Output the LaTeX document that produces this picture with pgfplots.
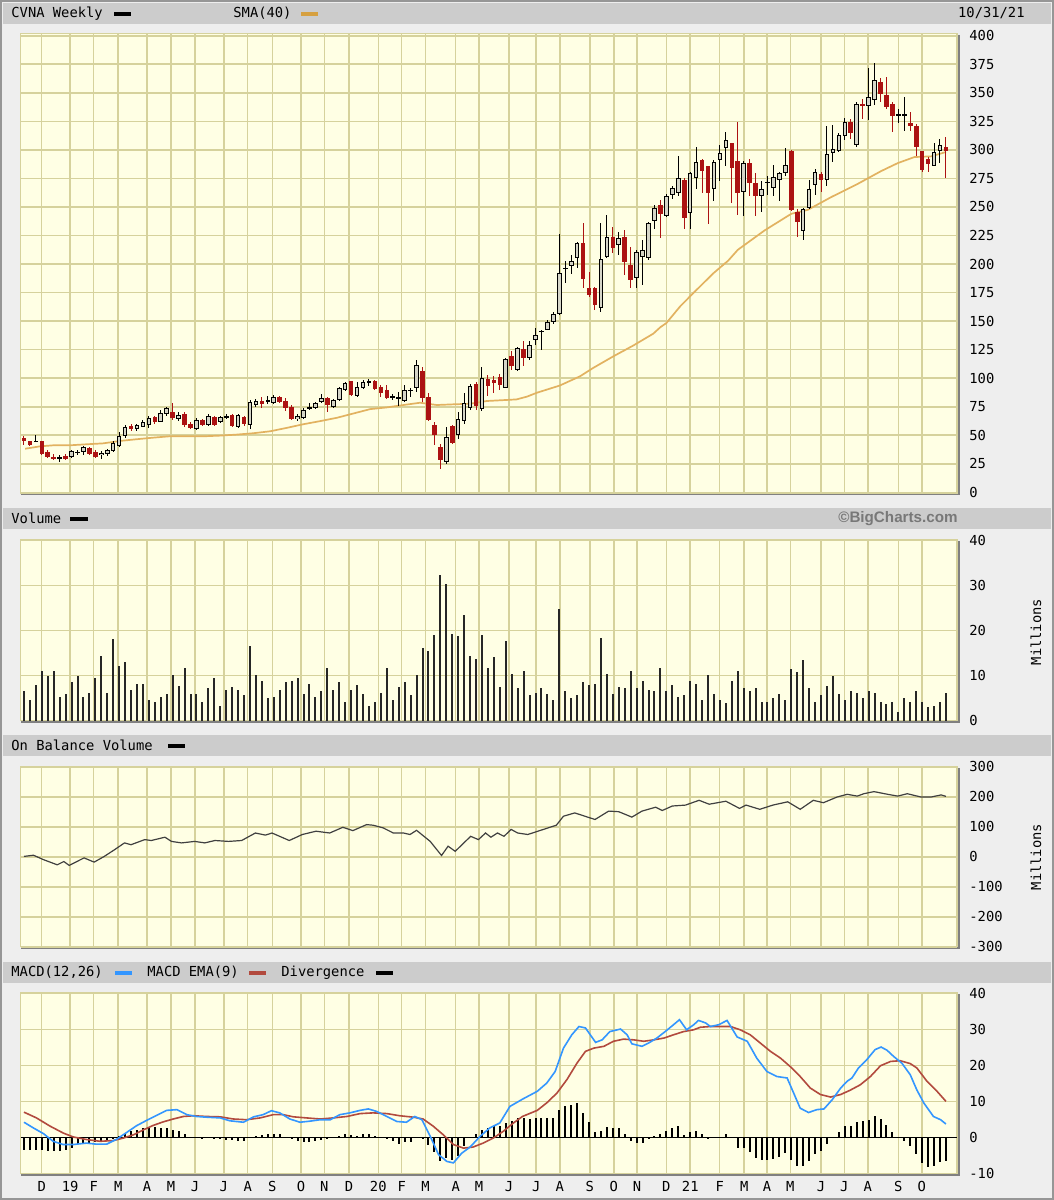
\documentclass[border=0pt]{standalone}
\usepackage{pgfplots}
\pgfplotsset{compat=1.18}
\usepackage{pgfplotstable}
\usepackage{fontspec}
\setmainfont{DejaVu Sans Mono}
\newfontfamily\chartfont{DejaVu Sans Mono}
\newfontfamily\bcfont{Liberation Sans}
\newcommand\cf{\chartfont\fontsize{6.9}{7}\selectfont}

\definecolor{chartbg}{RGB}{255,255,228}
\definecolor{gridc}{RGB}{214,210,156}
\definecolor{headc}{RGB}{204,204,204}
\definecolor{pagec}{RGB}{238,238,238}
\definecolor{framec}{RGB}{150,150,150}
\definecolor{shadowc}{RGB}{128,128,128}
\definecolor{candred}{RGB}{172,18,18}
\definecolor{hollow}{RGB}{214,214,200}
\definecolor{smac}{RGB}{226,178,96}
\definecolor{smasw}{RGB}{214,160,64}
\definecolor{macdc}{RGB}{51,150,255}
\definecolor{emac}{RGB}{178,74,62}
\definecolor{bcgray}{RGB}{120,120,120}

% weekly candles, x = week index (0 = mid Nov 2018, 155 = 10/29/21)
\pgfplotstableread{
i o h l c
2 44.5 50.0 44.0 45.0
6 30.0 33.0 27.0 30.3
8 31.0 37.4 29.7 35.9
9 35.0 37.4 33.0 35.5
10 35.3 40.9 33.0 39.7
13 32.4 36.0 28.8 34.7
14 33.5 38.0 32.0 37.0
15 36.5 44.7 35.3 43.5
16 40.6 53.0 39.7 49.4
17 49.4 58.8 47.6 57.4
19 55.3 60.3 53.5 58.8
20 57.6 63.2 57.0 61.2
21 58.8 66.5 56.8 65.3
23 61.8 72.0 61.2 69.1
24 68.2 75.0 67.0 73.5
26 64.1 70.0 62.4 67.6
29 55.9 64.7 54.4 63.2
31 58.8 69.0 58.0 67.0
33 61.8 66.8 60.9 65.9
34 65.9 68.2 64.0 66.2
36 57.4 69.0 56.5 67.6
38 58.8 80.9 55.9 79.4
39 76.5 81.8 75.0 80.0
41 80.3 84.7 77.0 80.6
42 77.9 85.3 77.0 83.8
46 64.1 69.0 62.4 66.8
47 65.3 73.5 64.1 72.1
48 73.8 77.9 72.1 74.1
49 74.1 79.4 72.9 78.5
50 79.4 85.9 77.9 82.9
52 75.0 81.8 73.5 80.9
53 80.9 92.1 80.0 91.2
54 89.7 97.0 88.8 95.6
56 84.7 97.0 83.8 92.6
57 91.8 98.5 90.6 96.5
58 97.0 99.4 93.5 97.1
62 83.5 85.9 80.9 83.8
63 82.6 87.6 75.9 82.9
64 80.0 94.1 78.8 89.7
65 89.4 91.8 83.8 89.7
66 91.2 116.2 87.6 111.8
71 26.5 57.4 25.0 48.5
73 50.0 70.6 47.1 63.9
74 62.5 87.2 60.0 78.5
75 74.0 94.5 72.0 93.0
77 72.7 109.6 71.2 100.0
81 91.6 117.7 91.0 116.9
83 107.0 127.3 106.0 126.5
85 117.7 132.3 115.7 129.4
86 133.7 143.9 129.4 138.0
87 140.8 142.4 124.4 141.2
88 142.4 151.0 141.9 148.8
89 148.8 158.4 147.7 156.4
90 156.4 225.9 155.5 192.4
91 195.9 202.9 183.1 196.5
92 198.3 207.8 191.0 202.9
93 205.0 219.5 196.2 218.6
97 161.3 235.5 157.6 204.0
98 206.4 242.7 205.0 223.3
100 216.6 228.2 207.8 222.4
103 187.5 212.2 178.8 210.8
104 206.4 221.0 181.7 212.2
105 205.0 237.0 203.5 235.5
106 237.8 251.5 231.0 249.4
108 241.7 261.0 241.0 259.6
109 260.2 268.0 256.7 266.8
110 262.0 294.2 259.6 275.5
112 244.6 281.0 230.8 279.8
113 275.5 302.9 265.4 289.0
116 266.0 291.3 255.3 289.0
117 290.8 304.3 272.6 297.0
118 301.4 315.9 286.2 308.7
121 263.1 289.9 241.7 288.5
124 259.6 272.6 245.2 266.0
125 271.5 276.9 260.2 271.9
126 266.8 287.0 259.6 276.0
127 274.0 281.0 255.3 279.8
128 279.8 301.4 276.9 287.0
131 228.5 248.7 220.7 248.1
132 248.7 274.0 248.1 266.0
133 269.1 283.3 260.2 280.7
135 274.0 320.8 268.3 296.5
136 297.1 321.6 289.0 300.6
137 298.6 315.0 297.7 313.0
138 312.1 328.3 308.7 324.5
140 304.3 341.8 302.9 339.8
142 338.1 372.1 326.0 346.1
143 343.3 376.4 338.9 361.1
147 330.7 336.0 323.7 331.1
148 330.7 346.1 316.7 331.1
153 286.2 306.3 285.6 297.7
154 298.6 309.2 288.5 304.3
}\upcandles

\pgfplotstableread{
i o h l c
0 47.6 49.4 41.8 45.3
1 45.3 45.3 40.6 41.8
3 44.7 45.3 33.0 33.5
4 35.3 37.4 30.0 31.0
5 31.0 34.0 28.0 29.0
7 31.8 33.5 28.0 29.4
11 38.8 39.7 33.0 33.2
12 35.3 36.8 30.0 30.9
18 57.9 59.7 53.5 55.3
22 65.9 66.5 60.3 61.8
25 70.6 77.9 63.2 64.7
27 68.2 70.0 57.4 58.8
28 60.3 61.8 55.3 56.5
30 63.2 64.0 58.2 58.8
32 66.2 66.8 58.2 58.8
35 67.6 68.2 57.4 58.2
37 66.2 66.8 58.2 60.3
40 80.0 83.8 74.1 77.0
43 83.8 84.7 77.9 79.4
44 80.0 82.4 71.2 74.1
45 75.0 76.5 63.2 64.1
51 82.4 83.8 70.6 76.5
55 97.1 97.6 84.7 85.3
59 97.1 98.5 89.7 90.6
60 92.6 94.1 83.8 86.8
61 89.7 94.1 81.8 82.9
67 105.9 109.4 79.4 82.4
68 83.8 86.8 62.4 63.2
69 58.8 61.8 41.2 50.0
70 39.7 42.6 20.6 27.9
72 58.2 59.4 42.6 43.5
76 95.0 96.5 72.0 75.6
78 99.7 103.0 84.3 93.0
79 98.8 101.7 86.6 95.9
80 101.0 104.0 90.0 93.6
82 119.2 124.0 107.5 111.0
84 125.9 132.3 110.5 117.7
94 218.6 235.5 178.8 186.6
95 178.8 193.3 171.5 173.0
96 178.8 180.2 159.9 164.2
99 223.8 232.6 209.3 213.7
101 223.8 229.7 190.4 202.0
102 199.1 214.5 178.8 186.0
107 251.5 256.0 222.4 243.6
111 274.0 275.5 230.8 240.0
114 290.8 292.0 262.5 281.3
115 285.6 285.6 235.0 262.5
119 306.3 306.3 253.3 284.1
120 289.9 324.5 242.9 262.5
122 288.5 292.0 259.6 271.2
123 271.2 280.0 241.7 259.6
129 298.6 300.0 246.6 247.5
130 245.2 248.1 223.6 237.1
134 279.2 281.0 263.1 274.0
139 324.5 327.4 309.2 314.4
141 339.8 344.7 327.4 338.1
144 359.7 362.9 341.8 349.0
145 348.2 363.5 336.0 337.5
146 340.4 341.8 315.9 329.4
149 323.1 333.2 316.7 320.8
150 320.8 322.5 294.2 302.9
151 299.4 299.4 280.4 282.7
152 291.9 293.7 280.4 287.9
155 302.9 311.5 275.5 298.6
}\downcandles

\pgfplotstableread{
i v
0.2 38.2
2.7 40.3
4.9 41.2
7.7 41.2
10.5 42.1
13.3 42.9
16.1 45.0
18.9 46.5
21.7 47.9
24.5 49.1
27.4 49.1
30.2 49.1
33.0 49.7
35.8 50.6
38.6 51.8
41.4 53.5
44.2 56.5
47.0 59.7
49.8 62.4
52.6 65.3
55.4 69.1
58.2 72.9
61.0 74.4
63.8 76.5
66.6 78.5
69.4 76.5
72.2 77.1
75.0 77.6
77.8 80.0
82.8 81.4
84.6 83.9
86.2 87.2
90.1 93.6
93.5 101.7
95.7 109.0
99.1 119.2
102.4 128.5
105.8 139.0
107.0 144.7
108.0 148.3
110.3 162.8
112.5 174.4
115.9 191.9
118.4 203.0
120.0 212.4
124.5 229.4
129.0 244.0
131.8 247.5
135.7 258.6
140.2 270.3
144.1 281.4
146.9 288.4
149.7 293.7
152.5 294.3
155.0 298.1
}\sma

\pgfplotstableread{
i v
0 6.5
1 4.6
2 7.8
3 11.1
4 9.8
5 11.1
6 5.2
7 5.9
8 8.6
9 9.8
10 5.2
11 6.2
12 9.5
13 14.4
14 6.2
15 18.0
16 12.1
17 13.0
18 6.8
19 8.2
20 8.2
21 4.6
22 4.2
23 5.2
24 5.9
25 10.1
26 7.6
27 11.7
28 5.9
29 5.9
30 4.2
31 7.2
32 9.4
33 3.3
34 6.8
35 7.4
36 6.8
37 5.6
38 16.6
39 10.1
40 8.8
41 4.9
42 5.2
43 6.8
44 8.6
45 8.8
46 9.4
47 5.9
48 8.2
49 5.2
50 6.5
51 11.7
52 6.8
53 8.6
54 4.2
55 6.8
56 7.8
57 5.9
58 3.3
59 4.2
60 6.2
61 11.7
62 4.6
63 7.4
64 8.6
65 5.6
66 10.1
67 16.0
68 15.4
69 19.0
70 32.3
71 30.3
72 19.3
73 18.7
74 23.4
75 14.4
76 13.7
77 19.0
78 11.7
79 14.1
80 7.4
81 17.6
82 10.4
83 7.2
84 11.1
85 5.6
86 6.2
87 7.2
88 5.9
89 4.6
90 24.8
91 6.5
92 4.9
93 5.6
94 8.6
95 7.8
96 8.2
97 18.3
98 10.4
99 5.9
100 7.4
101 7.2
102 11.1
103 7.2
104 8.8
105 6.8
106 6.5
107 11.7
108 6.5
109 7.8
110 5.2
111 5.6
112 8.8
113 8.2
114 4.6
115 10.1
116 5.9
117 4.6
118 3.9
119 8.8
120 11.1
121 7.2
122 6.5
123 7.2
124 4.2
125 4.2
126 4.9
127 5.9
128 4.6
129 11.4
130 10.8
131 13.4
132 7.2
133 4.2
134 5.6
135 7.6
136 9.8
137 5.9
138 4.6
139 6.5
140 6.2
141 4.9
142 6.5
143 6.2
144 4.2
145 3.6
146 4.2
147 2.0
148 4.9
149 4.2
150 6.5
151 4.2
152 3.0
153 3.3
154 4.2
155 6.2
}\volume

\pgfplotstableread{
i v
0 1
1.6 5
3.3 -10
5.6 -27
6.7 -16
7.6 -29
10.1 -4
11.8 -18
13.5 1
15.2 23
16.9 46
18.0 40
20.3 57
21.4 54
23.7 65
24.8 51
26.5 46
28.7 51
30.4 46
32.1 54
34.4 51
36.6 54
38.9 79
40.6 72
41.7 79
44.6 54
46.8 74
49.1 85
51.4 79
53.6 98
55.3 87
57.6 107
58.7 105
60.4 96
62.1 79
63.8 79
64.9 74
66.0 88
68.3 51
70.2 4
71.3 35
72.5 18
75.1 68
76.4 57
77.6 79
78.5 65
79.6 79
80.7 68
81.9 91
83.0 79
84.7 74
86.4 85
88.1 96
89.5 105
90.7 135
92.6 146
94.3 135
96.0 124
98.3 152
100.0 150
102.2 132
103.9 152
106.2 165
107.3 154
109.0 169
111.2 172
113.5 188
115.2 175
118.0 185
120.3 161
121.4 172
123.7 158
125.9 172
128.4 183
130.5 158
132.7 188
134.4 180
136.7 199
138.4 208
140.1 202
141.2 210
142.9 217
145.2 208
146.9 202
148.5 210
150.8 199
152.5 199
154.2 206
155.0 201
}\obv

\pgfplotstableread{
i v
0 4.2
1.6 2.6
3.3 1.0
4.9 -1.1
6.6 -2.0
8.3 -2.0
10.5 -1.6
12.2 -1.9
13.9 -1.9
15.6 -0.5
17.3 1.4
18.9 3.2
20.6 4.7
22.3 6.1
24.0 7.5
25.7 7.7
27.4 6.3
29.0 5.8
30.7 5.6
33.0 5.4
34.6 4.6
36.9 4.2
38.6 5.7
40.2 6.3
41.6 7.4
43.0 6.8
44.7 5.1
46.4 4.2
48.1 4.5
49.8 4.9
51.5 4.9
53.1 6.3
54.8 6.8
56.5 7.5
57.9 7.9
59.3 7.2
61.0 5.8
62.7 4.4
64.3 4.2
65.7 5.8
66.9 4.9
68.3 0.3
69.7 -4.8
71.1 -6.7
72.2 -7.1
73.6 -4.4
75.0 -2.7
76.7 0.3
78.3 2.6
80.0 4.0
81.7 8.6
83.8 10.6
86.3 12.8
87.9 15.1
89.3 18.3
90.7 24.8
92.1 28.5
93.3 30.8
94.4 30.4
96.1 26.4
97.2 27.1
98.5 29.4
100.3 30.1
101.4 28.5
102.2 26.0
103.9 25.3
105.0 26.2
106.4 27.6
107.8 29.4
109.2 31.3
110.2 32.7
111.4 29.9
112.6 31.3
113.4 32.5
114.6 31.8
115.4 30.8
116.8 31.3
118.2 32.5
119.9 27.9
121.6 26.7
123.2 22.0
124.9 18.3
126.6 16.9
128.3 16.5
129.4 12.3
130.5 8.1
131.9 6.9
133.3 7.7
134.5 7.9
135.9 10.5
137.3 13.7
138.4 15.6
139.2 16.5
140.3 19.3
141.7 21.6
143.1 24.4
144.1 25.1
145.1 24.2
146.2 22.5
147.6 20.6
149.0 17.4
150.1 13.2
151.3 9.5
152.9 5.8
154.1 4.9
155.0 3.7
}\macd

\pgfplotstableread{
i v
0 7.0
2.1 5.4
4.4 3.1
6.6 1.2
8.3 0.1
10.5 -0.6
12.8 -1.1
15.0 -0.9
16.7 -0.2
18.4 0.7
20.1 2.1
21.7 3.3
23.4 4.3
25.1 5.1
26.8 5.8
28.5 6.0
30.7 5.8
33.0 5.7
35.2 5.1
37.4 4.9
39.7 5.4
41.9 6.3
43.6 6.3
45.3 5.7
47.5 5.4
49.8 5.1
52.0 5.4
54.3 5.8
56.5 6.6
58.7 6.8
61.0 6.6
63.2 6.0
65.5 5.6
67.1 5.1
68.8 3.1
70.5 0.7
72.2 -2.0
73.9 -3.0
75.5 -2.7
77.2 -1.6
78.9 -0.2
80.6 1.7
82.3 4.0
83.8 5.8
86.3 7.5
87.9 9.6
89.6 12.3
91.3 16.1
93.0 20.7
94.4 23.9
95.8 24.8
97.5 25.3
99.1 26.7
100.8 27.3
102.5 27.1
104.2 26.7
105.9 27.1
107.6 27.6
109.2 28.5
110.9 29.4
112.6 29.9
113.7 30.6
115.4 30.8
117.1 30.8
118.8 30.8
120.4 29.9
122.1 28.5
123.8 26.2
125.5 23.9
127.2 22.0
128.8 19.7
130.5 16.9
132.2 13.7
133.9 11.9
135.6 11.2
137.3 11.9
138.9 13.1
140.6 14.6
142.3 16.9
144.0 19.9
145.7 21.1
147.3 21.3
149.0 20.5
150.1 19.3
151.8 15.6
153.5 12.8
155.0 10.0
}\ema

\pgfplotstableread{
i v
0 -3.4
1 -3.6
2 -3.4
3 -3.6
4 -3.9
5 -3.9
6 -3.9
7 -3.4
8 -3.0
9 -1.9
10 -1.6
11 -1.6
12 -1.4
13 -1.2
14 -0.8
15 -0.5
16 0.5
17 1.2
18 1.9
19 2.1
20 2.6
21 2.6
22 2.9
23 2.6
24 2.6
25 2.1
26 1.7
27 1.0
28 0.2
29 0
30 -0.5
31 0
32 -0.4
33 -0.5
34 -0.6
35 -0.8
36 -0.9
37 -0.9
38 0
39 0.3
40 0.6
41 0.8
42 1.0
43 0.9
44 0.2
45 -0.5
46 -1.1
47 -1.4
48 -1.3
49 -1.1
50 -0.6
51 -0.5
52 0
53 0.3
54 1.0
55 0.6
56 0.5
57 0.8
58 1.0
59 0.5
60 0
61 -0.5
62 -1.1
63 -1.8
64 -1.4
65 -1.4
66 0
67 -0.5
68 -2.0
69 -4.2
70 -6.7
71 -5.8
72 -6.2
73 -5.1
74 -2.5
75 0
76 0.8
77 2.1
78 2.6
79 3.1
80 3.2
81 4.0
82 4.5
83 5.4
84 5.4
85 5.1
86 5.4
87 5.4
88 5.4
89 5.4
90 7.5
91 8.6
92 9.1
93 9.5
94 6.9
95 4.2
96 1.4
97 1.7
98 2.9
99 2.6
100 2.6
101 1.0
102 -1.1
103 -1.6
104 -1.6
105 -0.5
106 0.5
107 1.0
108 1.7
109 2.6
110 3.1
111 0.7
112 1.4
113 1.7
114 1.0
115 -0.5
116 0
117 0
118 1.0
119 0
120 -3.0
121 -3.0
122 -4.2
123 -5.8
124 -6.2
125 -6.2
126 -5.9
127 -5.5
128 -4.4
129 -6.2
130 -8.1
131 -7.9
132 -6.7
133 -4.5
134 -3.9
135 -1.8
136 0
137 1.4
138 3.1
139 3.1
140 4.2
141 4.5
142 4.9
143 5.8
144 5.1
145 3.4
146 1.4
147 0
148 -1.1
149 -2.5
150 -4.5
151 -7.1
152 -8.2
153 -7.9
154 -6.9
155 -6.7
}\diverg

\pgfplotsset{
  panel/.style={
    scale only axis, anchor=north west, width=468.15pt,
    xmin=-0.55, xmax=156.86,
    axis background/.style={fill=chartbg},
    axis line style={draw=gridc, line width=0.7pt},
    xmajorgrids, ymajorgrids,
    major grid style={draw=gridc, line width=0.8pt},
    xtick={2.98,7.78,11.72,15.85,20.68,24.71,28.75,33.58,37.61,41.75,46.58,50.50,54.64,59.57,63.50,67.53,72.58,76.49,81.54,86.13,90.07,95.11,99.15,103.06,107.99,112.02,116.96,121.10,124.92,128.84,134.00,137.92,141.85,147.00,150.94},
    xticklabels={},
    major tick length=0pt,
    yticklabel pos=right,
    yticklabel style={font=\cf, anchor=west, inner sep=0pt, xshift=6pt},
    /pgf/number format/assume math mode=true,
    /pgf/number format/1000 sep={},
    scaled y ticks=false,
  },
  errbar/.style 2 args={only marks, mark=*, mark size=0pt,
    mark options={draw=none, fill=none}, forget plot,
    error bars/.cd, y dir=both, y explicit, error mark=none,
    error bar style={draw=#1, line width=#2}},
}

\begin{document}
\begin{tikzpicture}
\begin{scope}[x=0.5pt,y=-0.5pt]
  \fill[pagec] (0,0) rectangle (1054,1200);
  \draw[framec, line width=1pt] (1,1) rectangle (1053,1199);
  % header bars
  \fill[headc] (3,3) rectangle (1051,24);
  \fill[headc] (3,508) rectangle (1051,529);
  \fill[headc] (3,735) rectangle (1051,756);
  \fill[headc] (3,962) rectangle (1051,983);
  % plot shadows
  \fill[shadowc] (21,492.8) rectangle (959.5,495.3);
  \fill[shadowc] (957,35) rectangle (959.5,495.3);
  \fill[shadowc] (21,720.5) rectangle (959.5,723);
  \fill[shadowc] (957,541) rectangle (959.5,723);
  \fill[shadowc] (21,946.7) rectangle (959.5,949.2);
  \fill[shadowc] (957,768) rectangle (959.5,949.2);
  \fill[shadowc] (21,1173.3) rectangle (959.5,1175.8);
  \fill[shadowc] (957,994) rectangle (959.5,1175.8);
  % header texts
  \node[anchor=west, font=\cf, inner sep=0pt] at (11,13.5) {CVNA Weekly};
  \fill[black] (114,11.5) rectangle (131,15.5);
  \node[anchor=west, font=\cf, inner sep=0pt] at (233,13.5) {SMA(40)};
  \fill[smasw] (301,11.5) rectangle (318,15.5);
  \node[anchor=east, font=\cf, inner sep=0pt] at (1025,13.5) {10/31/21};
  \node[anchor=west, font=\cf, inner sep=0pt] at (11,518.5) {Volume};
  \fill[black] (70,516.5) rectangle (88,520.5);
  \node[anchor=east, font=\bcfont\bfseries\fontsize{7.6}{8}\selectfont, text=bcgray, inner sep=0pt] at (958,518.5) {©BigCharts.com};
  \node[anchor=west, font=\cf, inner sep=0pt] at (11,745.5) {On Balance Volume};
  \fill[black] (168,743.5) rectangle (185,747.5);
  \node[anchor=west, font=\cf, inner sep=0pt] at (11,972.5) {MACD(12,26)};
  \fill[macdc] (115,970.5) rectangle (132,974.5);
  \node[anchor=west, font=\cf, inner sep=0pt] at (147,972.5) {MACD EMA(9)};
  \fill[emac] (249,970.5) rectangle (266,974.5);
  \node[anchor=west, font=\cf, inner sep=0pt] at (281,972.5) {Divergence};
  \fill[black] (376,970.5) rectangle (393,974.5);
  \node[rotate=90, font=\cf, inner sep=0pt] at (1036,632) {Millions};
  \node[rotate=90, font=\cf, inner sep=0pt] at (1036,857) {Millions};
\end{scope}

% price panel
\begin{axis}[panel, at={(10.35pt,-16.65pt)}, height=229.75pt,
  ymin=-0.4, ymax=402.1, ytick={0,25,...,400}]
  \addplot[smac, line width=0.85pt] table[x=i, y=v] {\sma};
  \addplot[errbar={black}{0.5pt}] table[x=i, y expr={(\thisrow{h}+\thisrow{l})/2}, y error expr={(\thisrow{h}-\thisrow{l})/2}] {\upcandles};
  \addplot[errbar={candred}{0.5pt}] table[x=i, y expr={(\thisrow{h}+\thisrow{l})/2}, y error expr={(\thisrow{h}-\thisrow{l})/2}] {\downcandles};
  \addplot[errbar={black}{2.3pt}] table[x=i, y expr={(\thisrow{o}+\thisrow{c})/2}, y error expr={max(abs(\thisrow{c}-\thisrow{o})/2,0.45)}] {\upcandles};
  \addplot[errbar={hollow}{1.3pt}] table[x=i, y expr={(\thisrow{o}+\thisrow{c})/2}, y error expr={max(abs(\thisrow{c}-\thisrow{o})/2-0.87,0)}] {\upcandles};
  \addplot[errbar={candred}{2.3pt}] table[x=i, y expr={(\thisrow{o}+\thisrow{c})/2}, y error expr={max(abs(\thisrow{c}-\thisrow{o})/2,0.45)}] {\downcandles};
\end{axis}

% volume panel
\begin{axis}[panel, at={(10.35pt,-269.75pt)}, height=90.5pt,
  ymin=0, ymax=40.2, ytick={0,10,...,40}]
  \addplot[ycomb, draw=black!85, line width=1pt] table[x=i, y=v] {\volume};
\end{axis}

% on balance volume panel
\begin{axis}[panel, at={(10.35pt,-383.35pt)}, height=90pt,
  ymin=-300, ymax=300, ytick={-300,-200,...,300}]
  \addplot[black!75, line width=0.6pt] table[x=i, y=v] {\obv};
\end{axis}

% MACD panel
\begin{axis}[panel, at={(10.35pt,-496.35pt)}, height=90.3pt,
  ymin=-10, ymax=40.2, ytick={-10,0,...,40},
  extra y ticks={0}, extra y tick labels={},
  extra y tick style={major grid style={draw=black, line width=0.6pt}},
  xticklabels={D,19,F,M,A,M,J,J,A,S,O,N,D,20,F,M,A,M,J,J,A,S,O,N,D,21,F,M,A,M,J,J,A,S,O},
  xticklabel style={font=\cf, inner sep=0pt, yshift=-4pt}]
  \addplot[ycomb, draw=black, line width=1pt] table[x=i, y=v] {\diverg};
  \addplot[emac, line width=0.8pt] table[x=i, y=v] {\ema};
  \addplot[macdc, line width=0.8pt] table[x=i, y=v] {\macd};
\end{axis}
\end{tikzpicture}
\end{document}
